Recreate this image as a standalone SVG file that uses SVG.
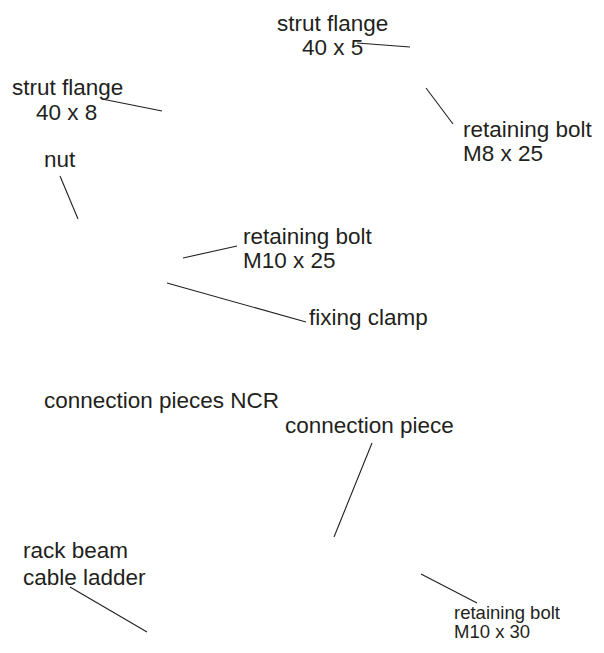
<svg xmlns="http://www.w3.org/2000/svg" width="604" height="653" viewBox="0 0 604 653">
<style>
text{font-family:"Liberation Sans",Arial,sans-serif;font-size:22.5px;fill:#231f20}
text.s{font-size:18.5px}
line{stroke:#231f20;stroke-width:1.1;fill:none}
</style>
<rect width="604" height="653" fill="#fff"/>
<g id="connectors">
<line x1="357" y1="43" x2="410" y2="47"/>
<line x1="102" y1="99" x2="162" y2="111"/>
<line x1="426" y1="88" x2="453" y2="124"/>
<line x1="60" y1="176" x2="78" y2="219"/>
<line x1="183" y1="258" x2="237" y2="246"/>
<line x1="167" y1="283" x2="306" y2="322"/>
<line x1="372" y1="443" x2="334" y2="537"/>
<line x1="70" y1="587" x2="147" y2="632"/>
<line x1="421" y1="574" x2="477" y2="603"/>
</g>
<g id="strut-flange-5"><text x="277" y="31">strut flange</text><text x="302" y="55">40 x 5</text></g>
<g id="strut-flange-8"><text x="12" y="95">strut flange</text><text x="36" y="120">40 x 8</text></g>
<g id="bolt-m8"><text x="463" y="137">retaining bolt</text><text x="463" y="161">M8 x 25</text></g>
<g id="nut"><text x="44" y="167">nut</text></g>
<g id="bolt-m10-25"><text x="243" y="244">retaining bolt</text><text x="243" y="268">M10 x 25</text></g>
<g id="fixing-clamp"><text x="309" y="325">fixing clamp</text></g>
<g id="ncr"><text x="44" y="408">connection pieces NCR</text></g>
<g id="connection-piece"><text x="285" y="433">connection piece</text></g>
<g id="rack-beam"><text x="23" y="558">rack beam</text><text x="23" y="585">cable ladder</text></g>
<g id="bolt-m10-30"><text class="s" x="454" y="619">retaining bolt</text><text class="s" x="454" y="638">M10 x 30</text></g>
</svg>
